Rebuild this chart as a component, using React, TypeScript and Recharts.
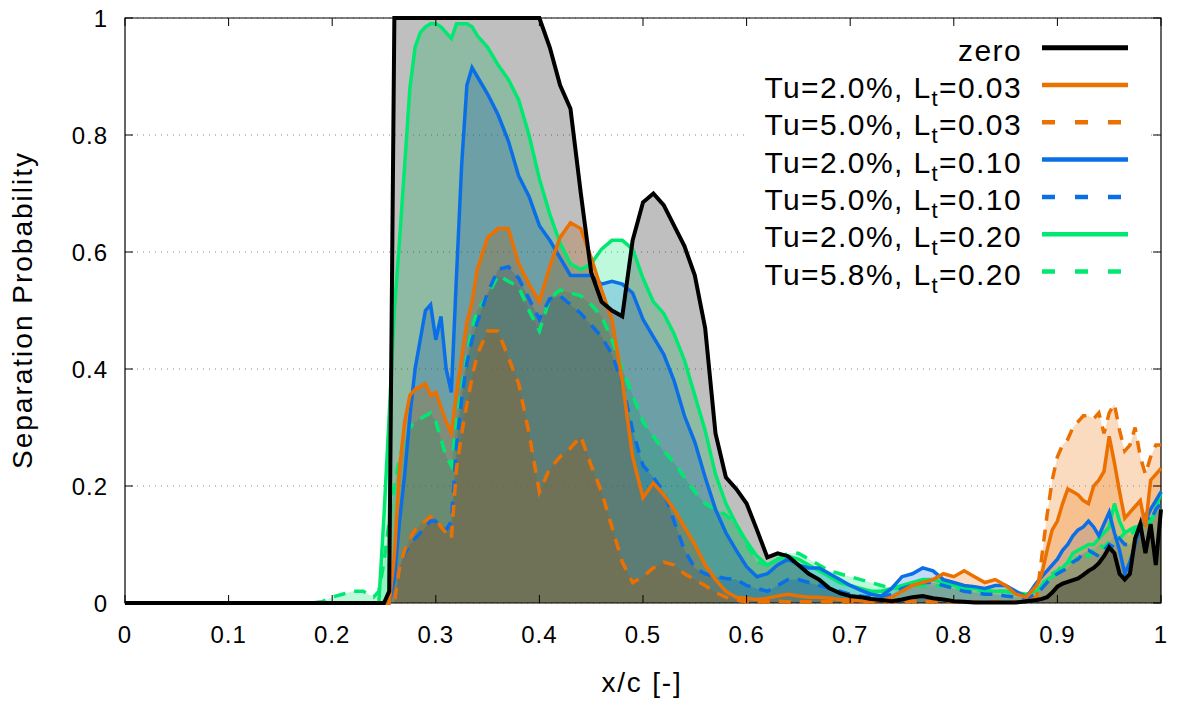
import React from "react";
import {
  ComposedChart,
  Area,
  Line,
  XAxis,
  YAxis,
  CartesianGrid,
  ReferenceArea,
} from "recharts";

// x/c sample positions (finer where the curves move fast)
const xc = [
  0, 0.1, 0.18, 0.19, 0.2, 0.21, 0.22, 0.23, 0.24,
  0.245, 0.25, 0.255, 0.26, 0.265, 0.27, 0.275, 0.28, 0.285, 0.29,
  0.295, 0.3, 0.305, 0.31, 0.315, 0.32, 0.325, 0.33, 0.335, 0.34,
  0.35, 0.36, 0.37, 0.38, 0.39, 0.4,
  0.41, 0.42, 0.43, 0.44, 0.45, 0.46, 0.47, 0.48, 0.49, 0.5,
  0.51, 0.52, 0.53, 0.54, 0.55, 0.56, 0.57, 0.58, 0.59, 0.6,
  0.61, 0.62, 0.63, 0.64, 0.65, 0.66, 0.67, 0.68, 0.69, 0.7,
  0.71, 0.72, 0.73, 0.74, 0.75, 0.76, 0.77, 0.78, 0.79, 0.8,
  0.81, 0.82, 0.83, 0.84, 0.85, 0.86, 0.87, 0.88,
  0.885, 0.89, 0.895, 0.9, 0.905, 0.91, 0.915, 0.92, 0.925, 0.93, 0.935, 0.94,
  0.945, 0.95, 0.955, 0.96, 0.965, 0.97, 0.975, 0.98, 0.985, 0.99, 0.995, 1,
];

const zero = [
  0, 0, 0, 0, 0, 0, 0, 0, 0,
  0, 0, 0.02, 1, 1, 1, 1, 1, 1, 1, 1, 1, 1, 1, 1, 1, 1, 1, 1, 1,
  1, 1, 1, 1, 1, 1,
  0.95, 0.885, 0.845, 0.7, 0.565, 0.515, 0.5, 0.49, 0.62, 0.685,
  0.7, 0.68, 0.645, 0.61, 0.56, 0.47, 0.29, 0.215, 0.195, 0.17,
  0.125, 0.078, 0.085, 0.08, 0.065, 0.05, 0.04, 0.025, 0.017, 0.012,
  0.01, 0.007, 0.005, 0.003, 0.006, 0.01, 0.012, 0.008, 0.006, 0.003,
  0.002, 0.001, 0.001, 0.001, 0.001, 0.001, 0.003, 0.005,
  0.007, 0.01, 0.018, 0.028, 0.033, 0.036, 0.039, 0.042, 0.048, 0.055, 0.06, 0.068,
  0.08, 0.095, 0.085, 0.05, 0.04, 0.05, 0.11, 0.135, 0.085, 0.135, 0.065, 0.16,
];

const tu2lt03 = [
  0, 0, 0, 0, 0, 0, 0, 0, 0,
  0, 0, 0, 0.08, 0.23, 0.31, 0.355, 0.365, 0.37, 0.375,
  0.355, 0.36, 0.335, 0.31, 0.29, 0.36, 0.42, 0.48, 0.515, 0.57,
  0.625, 0.64, 0.64, 0.58, 0.545, 0.515,
  0.575, 0.625, 0.65, 0.64, 0.59, 0.535, 0.485, 0.38, 0.25, 0.18,
  0.205, 0.185, 0.16, 0.13, 0.1, 0.065, 0.04, 0.02, 0.01, 0.008,
  0.006, 0.008, 0.012, 0.015, 0.012, 0.01, 0.01, 0.008, 0.006, 0.005,
  0.004, 0.003, 0.005, 0.01, 0.02, 0.03, 0.035, 0.04, 0.05, 0.045,
  0.055, 0.045, 0.035, 0.04, 0.03, 0.015, 0.01, 0.03,
  0.05, 0.09, 0.125, 0.14, 0.17, 0.195, 0.19, 0.185, 0.175, 0.17, 0.2, 0.21,
  0.225, 0.285, 0.24, 0.19, 0.145, 0.155, 0.165, 0.175, 0.13, 0.21, 0.22, 0.23,
];

const tu5lt03 = [
  0, 0, 0, 0, 0, 0, 0, 0, 0,
  0, 0, 0, 0, 0.06, 0.09, 0.11, 0.125, 0.135, 0.14,
  0.148, 0.145, 0.13, 0.12, 0.11, 0.23, 0.29, 0.34, 0.385, 0.425,
  0.465, 0.465, 0.42, 0.375, 0.29, 0.19,
  0.23, 0.25, 0.265, 0.285, 0.235, 0.19, 0.13, 0.07, 0.035, 0.045,
  0.06, 0.07, 0.065, 0.05, 0.04, 0.03, 0.018, 0.01, 0.005, 0.002,
  0.002, 0.002, 0.003, 0.002, 0.002, 0.002, 0.002, 0.002, 0.002, 0.002,
  0.002, 0.002, 0.002, 0.002, 0.002, 0.003, 0.002, 0.002, 0.002, 0.002,
  0.002, 0.002, 0.002, 0.002, 0.002, 0.002, 0.002, 0.01,
  0.08, 0.15, 0.21, 0.25, 0.27, 0.28, 0.3, 0.31, 0.32, 0.32, 0.315, 0.325,
  0.29, 0.325, 0.34, 0.295, 0.26, 0.27, 0.3, 0.25, 0.22, 0.25, 0.27, 0.27,
];

const tu2lt10 = [
  0, 0, 0, 0, 0, 0, 0, 0, 0,
  0, 0, 0, 0.04, 0.14, 0.22, 0.32, 0.4, 0.45, 0.5,
  0.51, 0.45, 0.49, 0.4, 0.36, 0.56, 0.75, 0.885, 0.915, 0.9,
  0.87, 0.835, 0.79, 0.73, 0.695, 0.645,
  0.62, 0.59, 0.56, 0.56, 0.56, 0.545, 0.55, 0.545, 0.53, 0.485,
  0.455, 0.425, 0.38, 0.32, 0.275, 0.215, 0.16, 0.12, 0.09, 0.062,
  0.045, 0.05, 0.065, 0.075, 0.065, 0.06, 0.06, 0.05, 0.04, 0.03,
  0.022, 0.015, 0.012, 0.025, 0.045, 0.05, 0.06, 0.055, 0.04, 0.035,
  0.03, 0.028, 0.025, 0.03, 0.03, 0.02, 0.01, 0.035,
  0.045, 0.055, 0.065, 0.075, 0.09, 0.1, 0.115, 0.125, 0.13, 0.14, 0.13, 0.115,
  0.135, 0.155, 0.12, 0.09, 0.05, 0.07, 0.1, 0.13, 0.14, 0.16, 0.175, 0.19,
];

const tu5lt10 = [
  0, 0, 0, 0, 0, 0, 0, 0, 0,
  0, 0, 0, 0, 0.06, 0.085, 0.1, 0.11, 0.12, 0.13,
  0.14, 0.14, 0.128, 0.125, 0.14, 0.27, 0.35, 0.41, 0.45, 0.48,
  0.53, 0.57, 0.575, 0.555, 0.52, 0.485,
  0.52, 0.525, 0.51, 0.495, 0.475, 0.455, 0.425, 0.375, 0.295, 0.235,
  0.215, 0.19, 0.14, 0.09, 0.06, 0.05, 0.045, 0.042, 0.04, 0.03,
  0.025, 0.02, 0.03, 0.04, 0.04, 0.035, 0.03, 0.025, 0.02, 0.015,
  0.012, 0.01, 0.01, 0.015, 0.025, 0.03, 0.035, 0.035, 0.03, 0.025,
  0.02, 0.018, 0.015, 0.015, 0.012, 0.01, 0.008, 0.015,
  0.025, 0.035, 0.045, 0.05, 0.055, 0.06, 0.07, 0.075, 0.085, 0.09, 0.085, 0.08,
  0.09, 0.1, 0.095, 0.11, 0.1, 0.1, 0.11, 0.13, 0.15, 0.14, 0.16, 0.17,
];

const tu2lt20 = [
  0, 0, 0, 0, 0, 0, 0, 0, 0,
  0, 0.15, 0.32, 0.5, 0.62, 0.75, 0.88, 0.95, 0.975, 0.985,
  0.99, 0.99, 0.985, 0.975, 0.965, 0.99, 0.99, 0.99, 0.985, 0.97,
  0.95, 0.92, 0.895, 0.86, 0.8, 0.725,
  0.665, 0.615, 0.58, 0.57, 0.58, 0.605, 0.62, 0.62, 0.605, 0.555,
  0.515, 0.495, 0.46, 0.415, 0.355, 0.295, 0.22, 0.17, 0.135, 0.105,
  0.08, 0.065, 0.075, 0.08, 0.075, 0.065, 0.055, 0.045, 0.035, 0.03,
  0.025, 0.02, 0.02, 0.025, 0.03, 0.035, 0.04, 0.04, 0.035, 0.03,
  0.025, 0.025, 0.022, 0.02, 0.02, 0.018, 0.015, 0.02,
  0.03, 0.04, 0.045, 0.05, 0.06, 0.07, 0.085, 0.09, 0.095, 0.1, 0.1, 0.11,
  0.12, 0.13, 0.17, 0.14, 0.12, 0.125, 0.13, 0.13, 0.135, 0.14, 0.16, 0.19,
];

const tu58lt20 = [
  0, 0, 0, 0.002, 0.01, 0.015, 0.02, 0.02, 0.01,
  0.02, 0.07, 0.14, 0.2, 0.25, 0.28, 0.3, 0.31, 0.315, 0.32,
  0.325, 0.31, 0.28, 0.25, 0.235, 0.31, 0.37, 0.42, 0.47, 0.5,
  0.525, 0.56, 0.55, 0.54, 0.5, 0.465,
  0.52, 0.535, 0.53, 0.525, 0.51, 0.49, 0.45, 0.4, 0.355, 0.31,
  0.285, 0.26, 0.24, 0.215, 0.19, 0.17, 0.16, 0.15, 0.135, 0.1,
  0.07, 0.065, 0.075, 0.085, 0.085, 0.075, 0.065, 0.055, 0.05, 0.045,
  0.04, 0.035, 0.03, 0.025, 0.025, 0.03, 0.03, 0.03, 0.03, 0.025,
  0.025, 0.022, 0.02, 0.02, 0.02, 0.015, 0.012, 0.02,
  0.03, 0.045, 0.05, 0.055, 0.065, 0.07, 0.07, 0.08, 0.085, 0.08, 0.09, 0.1,
  0.095, 0.105, 0.115, 0.11, 0.12, 0.115, 0.125, 0.135, 0.13, 0.14, 0.155, 0.16,
];

const xTicks = [0, 0.1, 0.2, 0.3, 0.4, 0.5, 0.6, 0.7, 0.8, 0.9, 1];
const yTicks = [0, 0.2, 0.4, 0.6, 0.8, 1];

const series = [
  { key: "zero", values: zero, color: "#000000", dashed: false, width: 4, label: ["zero", "", ""] },
  { key: "o2", values: tu2lt03, color: "#ec7000", dashed: false, width: 3.5, label: ["Tu=2.0%, L", "t", "=0.03"] },
  { key: "o5", values: tu5lt03, color: "#ec7000", dashed: true, width: 3.5, label: ["Tu=5.0%, L", "t", "=0.03"] },
  { key: "b2", values: tu2lt10, color: "#0a6fe6", dashed: false, width: 3.5, label: ["Tu=2.0%, L", "t", "=0.10"] },
  { key: "b5", values: tu5lt10, color: "#0a6fe6", dashed: true, width: 3.5, label: ["Tu=5.0%, L", "t", "=0.10"] },
  { key: "g2", values: tu2lt20, color: "#00e870", dashed: false, width: 3.5, label: ["Tu=2.0%, L", "t", "=0.20"] },
  { key: "g5", values: tu58lt20, color: "#00e870", dashed: true, width: 3.5, label: ["Tu=5.8%, L", "t", "=0.20"] },
];

const rows = xc.map((x, i) => {
  const r: Record<string, number> = { x };
  series.forEach((s) => (r[s.key] = s.values[i]));
  return r;
});

const W = 1181;
const H = 701;
const PLOT = { left: 125, right: 1161, top: 18, bottom: 603 };
const FONT = "'Liberation Sans', Arial, sans-serif";
const DASH = "12 9";

function XTick(props: any) {
  const { x, payload } = props;
  return (
    <g>
      <line x1={x} x2={x} y1={PLOT.bottom} y2={PLOT.bottom - 8} stroke="#000" />
      <line x1={x} x2={x} y1={PLOT.top} y2={PLOT.top + 8} stroke="#000" />
      <text x={x} y={643} textAnchor="middle" fontSize={24} letterSpacing={1} fontFamily={FONT} fill="#000">
        {String(payload.value)}
      </text>
    </g>
  );
}

function YTick(props: any) {
  const { y, payload } = props;
  return (
    <g>
      <line x1={PLOT.left} x2={PLOT.left + 8} y1={y} y2={y} stroke="#000" />
      <line x1={PLOT.right} x2={PLOT.right - 8} y1={y} y2={y} stroke="#000" />
      <text x={108} y={y + 8.5} textAnchor="end" fontSize={24} letterSpacing={1} fontFamily={FONT} fill="#000">
        {String(payload.value)}
      </text>
    </g>
  );
}

function KeyBox() {
  const rowY = 47.7;
  const step = 37.3;
  return (
    <svg width={W} height={H} style={{ position: "absolute", left: 0, top: 0, pointerEvents: "none" }}>
      <rect x={748} y={28} width={402} height={262} fill="#fff" />
      {series.map((s, i) => {
        const y = rowY + i * step;
        return (
          <g key={s.key}>
            <text x={1022} y={y + 13} textAnchor="end" fontSize={30} letterSpacing={1.4} fontFamily={FONT} fill="#000">
              <tspan>{s.label[0]}</tspan>
              {s.label[1] && (
                <tspan dy={8} fontSize={22}>
                  {s.label[1]}
                </tspan>
              )}
              {s.label[2] && <tspan dy={-8}>{s.label[2]}</tspan>}
            </text>
            <line
              x1={1042}
              x2={1128}
              y1={y}
              y2={y}
              stroke={s.color}
              strokeWidth={s.key === "zero" ? 5 : 4.5}
              strokeDasharray={s.dashed ? "13 20" : undefined}
            />
          </g>
        );
      })}
      <text x={642} y={692} textAnchor="middle" fontSize={28} letterSpacing={1.8} fontFamily={FONT} fill="#000">
        x/c [-]
      </text>
      <text
        transform="translate(32, 310) rotate(-90)"
        textAnchor="middle"
        fontSize={28}
        letterSpacing={2}
        fontFamily={FONT}
        fill="#000"
      >
        Separation Probability
      </text>
    </svg>
  );
}

// fills and lines are painted last-series-first, so the grey "zero" fill and line end on top
const paintOrder = [...series].reverse();

export default function App() {
  return (
    <div style={{ position: "absolute", left: 0, top: 0, width: W, height: H, background: "#fff" }}>
      <ComposedChart
        width={W}
        height={H}
        data={rows}
        margin={{ top: PLOT.top, right: W - PLOT.right, bottom: 0, left: 0 }}
      >
        <CartesianGrid vertical={false} stroke="#888" strokeDasharray="1 5" />
        {paintOrder.map((s) => (
          <Area
            key={`fill-${s.key}`}
            dataKey={s.key}
            type="linear"
            stroke="none"
            fill={s.color}
            fillOpacity={0.25}
            isAnimationActive={false}
            legendType="none"
          />
        ))}
        {paintOrder.map((s) => (
          <Line
            key={`line-${s.key}`}
            dataKey={s.key}
            type="linear"
            stroke={s.color}
            strokeWidth={s.width}
            strokeDasharray={s.dashed ? DASH : undefined}
            dot={false}
            activeDot={false}
            isAnimationActive={false}
          />
        ))}
        <ReferenceArea x1={0} x2={1} y1={0} y2={1} fill="none" stroke="#000" strokeWidth={1.2} />
        <XAxis
          dataKey="x"
          type="number"
          domain={[0, 1]}
          ticks={xTicks}
          height={H - PLOT.bottom}
          axisLine={false}
          tickLine={false}
          tick={<XTick />}
          interval={0}
        />
        <YAxis
          type="number"
          domain={[0, 1]}
          ticks={yTicks}
          width={PLOT.left}
          axisLine={false}
          tickLine={false}
          tick={<YTick />}
          interval={0}
        />
      </ComposedChart>
      <KeyBox />
    </div>
  );
}
